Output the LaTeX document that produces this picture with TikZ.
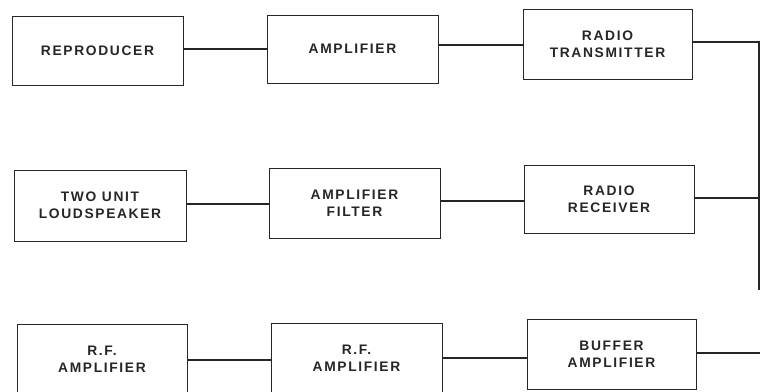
\documentclass[tikz,border=0pt]{standalone}
\usepackage{fontspec}
\setmainfont{Liberation Sans}[LetterSpace=12]
\begin{document}
\begin{tikzpicture}[x=1pt,y=-1pt,
  blk/.style={draw=black!85,line width=0.9pt,minimum width=#1,inner sep=0pt,
    font=\bfseries\fontsize{13.8}{17}\selectfont,align=center,text=black!85},
  blk/.default=171pt,
  wire/.style={draw=black!85,line width=1.8pt}]
\useasboundingbox (0,0) rectangle (760,391);
\clip (0,0) rectangle (760,391);
\fill[white] (0,0) rectangle (760,391);
\node[blk,minimum height=69pt] (rep) at (97.5,50.5) {REPRODUCER};
\node[blk,minimum height=68pt] (amp) at (352.5,49) {AMPLIFIER};
\node[blk=169pt,minimum height=70pt] (tx) at (607.5,44) {RADIO\\TRANSMITTER};
\node[blk=172pt,minimum height=71pt] (spk) at (100,205.5) {TWO UNIT\\LOUDSPEAKER};
\node[blk,minimum height=70pt] (filt) at (354.5,203) {AMPLIFIER\\FILTER};
\node[blk=170pt,minimum height=68pt] (rx) at (609,199) {RADIO\\RECEIVER};
\node[blk=170pt,minimum height=70pt] (rf1) at (102,359) {R.F.\\AMPLIFIER};
\node[blk,minimum height=70pt] (rf2) at (356.5,358) {R.F.\\AMPLIFIER};
\node[blk=169pt,minimum height=70pt] (buf) at (611.5,354) {BUFFER\\AMPLIFIER};
\coordinate (c1) at (759,42);
\coordinate (c2) at (759,198);
\coordinate (c3) at (759,290);
\coordinate (c4) at (761,353);
\draw[wire] ([yshift=1.5pt]rep.east) -- ([yshift=1.5pt]rep.east -| amp.west);
\draw[wire] ([yshift=4pt]amp.east) -- ([yshift=4pt]amp.east -| tx.west);
\draw[wire] (tx.east |- c1) -- (c1) -- (c3);
\draw[wire] (rx.east |- c2) -- (c2);
\draw[wire] ([yshift=1.5pt]spk.east) -- ([yshift=1.5pt]spk.east -| filt.west);
\draw[wire] ([yshift=2pt]filt.east) -- ([yshift=2pt]filt.east -| rx.west);
\draw[wire] ([yshift=-1pt]rf1.east) -- ([yshift=-1pt]rf1.east -| rf2.west);
\draw[wire] (rf2.east) -- (rf2.east -| buf.west);
\draw[wire] (buf.east |- c4) -- (c4);
\end{tikzpicture}
\end{document}
